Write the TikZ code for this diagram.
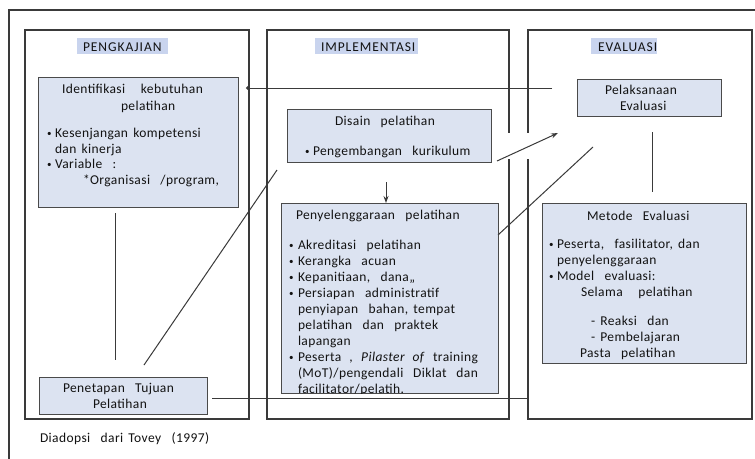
\documentclass[tikz,border=0pt]{standalone}
\usepackage{fontspec}
\setmainfont{Carlito}[LetterSpace=3,WordSpace=1.5]
\usetikzlibrary{arrows.meta}
\definecolor{boxfill}{HTML}{DCE3F1}
\definecolor{hl}{HTML}{C9D4EE}
\definecolor{edge}{HTML}{3A3A3A}
\definecolor{boxedge}{HTML}{4A4A4A}
\definecolor{txt}{HTML}{121212}
\newcommand\txtline[4]{\node[ln] (#1) at (#2,#3) {#4};}
\newcommand\bul{{\fontsize{9}{9}\selectfont\raisebox{0.6pt}{•}}}
\begin{document}
\begin{tikzpicture}[x=1pt,y=-1pt,
  every node/.style={inner sep=0pt,outer sep=0pt,font=\fontsize{13.5}{16}\selectfont,text=txt},
  ln/.style={anchor=base west},
  col/.style={draw=edge,line width=1.4pt,anchor=north west},
  box/.style={draw=boxedge,fill=boxfill,line width=0.9pt,anchor=north west},
  hlbox/.style={fill=hl,anchor=north west},
  conn/.style={draw=edge,line width=1pt},
  tip/.style={-{Stealth[length=7pt,width=5pt]}}]
\clip (0,0) rectangle (755,458);
\fill[white] (0,0) rectangle (755,458);
% outer frame
\draw[edge,line width=1.2pt] (9,470) -- (9,10) -- (770,10);
% column frames
\node[col,minimum width=224pt,minimum height=389pt] (pk) at (25,30) {};
\node[col,minimum width=242pt,minimum height=389pt] (im) at (267,30) {};
\node[col,minimum width=224pt,minimum height=389pt] (ev) at (528,30) {};
\fill[white] (505,133) rectangle (533,159);
% title highlights
\node[hlbox,minimum width=91pt,minimum height=16pt] (hpk) at (77,38) {};
\node[hlbox,minimum width=103pt,minimum height=16pt] (him) at (315,38) {};
\node[hlbox,minimum width=66pt,minimum height=16pt] (hev) at (591,38) {};
{\fontsize{14}{16}\selectfont\addfontfeature{LetterSpace=7}
\txtline{tpk}{83}{51}{PENGKAJIAN}
\txtline{tim}{321}{51}{IMPLEMENTASI}
\txtline{tev}{598}{51}{EVALUASI}
}
% boxes
\node[box,minimum width=200pt,minimum height=130pt] (ident) at (38,77) {};
\node[box,minimum width=168pt,minimum height=37pt] (tuj) at (39,377) {};
\node[box,minimum width=204pt,minimum height=53pt] (dis) at (287,109) {};
\node[box,minimum width=217pt,minimum height=190pt] (pen) at (281,203) {};
\node[box,minimum width=144pt,minimum height=37pt] (pel) at (577,79) {};
\node[box,minimum width=204pt,minimum height=160pt] (met) at (542,203) {};
% connectors
\coordinate (c1) at (552,88);  \coordinate (c2) at (246,88);
\draw[conn,-{Circle[length=3.5pt]}] (c1) -- (c2);
\coordinate (c3) at (115,213); \coordinate (c4) at (115,360);
\draw[conn] (c3) -- (c4);
\coordinate (c5) at (144,365); \coordinate (c6) at (277,170);
\draw[conn] (c5) -- (c6);
\coordinate (c7) at (386,182);
\draw[conn,tip] (c7) -- (pen.north -| c7);
\coordinate (c8) at (497,161); \coordinate (c9) at (558,133);
\draw[conn,tip] (c8) -- (c9);
\coordinate (c10) at (498,235); \coordinate (c11) at (593,147);
\draw[conn] (c10) -- (c11);
\coordinate (c12) at (652,132); \coordinate (c13) at (652,192);
\draw[conn] (c12) -- (c13);
\coordinate (c14) at (212,398); \coordinate (c15) at (528,398);
\draw[conn] (c14) -- (c15);
% texts: Identifikasi
\txtline{i1}{62}{93}{Identifikasi\ \ \ kebutuhan}
\txtline{i2}{121}{110}{pelatihan}
\txtline{i3}{47}{137}{\bul}
\txtline{i4}{55}{137}{Kesenjangan\ kompetensi}
\txtline{i5}{55}{153}{dan kinerja}
\txtline{i6}{47}{168}{\bul}
\txtline{i7}{55}{168}{Variable\ \ :}
\txtline{i8}{83}{184}{*Organisasi\ \ /program,}
% Penetapan
\txtline{p1}{63}{392}{Penetapan\ \ Tujuan}
\txtline{p2}{93}{408}{Pelatihan}
% Disain
\txtline{d1}{335}{125}{Disain\ \ pelatihan}
\txtline{d2}{305}{155}{\bul}
\txtline{d3}{313}{155}{Pengembangan\ \ kurikulum}
% Penyelenggaraan
\begin{scope}
\clip (281,203) rectangle (498,393);
\txtline{s0}{296}{219}{Penyelenggaraan\ \ pelatihan}
\txtline{b1}{289}{249}{\bul}\txtline{s1}{298}{249}{Akreditasi\ \ pelatihan}
\txtline{b2}{289}{265}{\bul}\txtline{s2}{298}{265}{Kerangka\ \ acuan}
\txtline{b3}{289}{281}{\bul}\txtline{s3}{298}{281}{Kepanitiaan,\ \ dana,,}
\txtline{b4}{289}{297}{\bul}\txtline{s4}{298}{297}{Persiapan\ \ administratif}
\txtline{s5}{298}{313}{penyiapan\ \ bahan,\ tempat}
\txtline{s6}{298}{329}{pelatihan\ \ dan\ \ praktek}
\txtline{s7}{298}{345}{lapangan}
\txtline{b8}{289}{361}{\bul}\txtline{s8}{298}{361}{\makebox[180pt][s]{Peserta , \textit{Pilaster of} training}}
\txtline{s9}{298}{377}{\makebox[180pt][s]{(MoT)/pengendali Diklat dan}}
\txtline{s10}{298}{393}{facilitator/pelatih.}
\end{scope}
% Pelaksanaan
\txtline{e1}{605}{94}{Pelaksanaan}
\txtline{e2}{620}{110}{Evaluasi}
% Metode
\txtline{m0}{587}{220}{Metode\ \ Evaluasi}
\txtline{mb1}{549}{248}{\bul}\txtline{m1}{557}{248}{Peserta,\ \ fasilitator,\ dan}
\txtline{m2}{557}{264}{penyelenggaraan}
\txtline{mb3}{549}{280}{\bul}\txtline{m3}{557}{280}{Model\ \ evaluasi:}
\txtline{m4}{581}{296}{Selama\ \ \ pelatihan}
\txtline{m5}{591}{325}{-\ Reaksi\ \ dan}
\txtline{m6}{591}{341}{-\ Pembelajaran}
\txtline{m7}{580}{357}{Pasta\ \ pelatihan}
% caption
{\fontsize{10.5}{13}\selectfont\txtline{cap}{40}{442}{Diadopsi\ \ dari\ Tovey\ \ (1997)}}
\end{tikzpicture}
\end{document}
